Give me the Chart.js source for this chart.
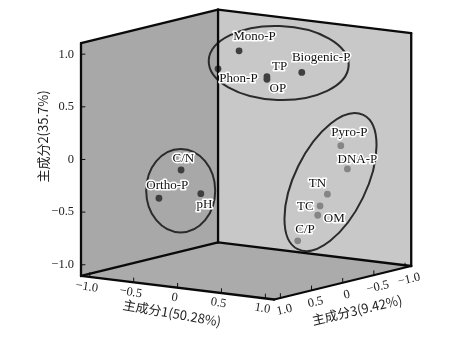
<!DOCTYPE html>
<html><head><meta charset="utf-8">
<style>html,body{margin:0;padding:0;background:#fff}canvas{display:block}</style>
<script src="https://cdn.jsdelivr.net/npm/chart.js@4/dist/chart.umd.min.js"></script>
</head><body><canvas id="c" width="471" height="342"></canvas>
<script>
// ---- data ----
const names = ['Mono-P','Phon-P','TP','OP','Biogenic-P','Pyro-P','DNA-P','TN','TC','OM','C/P','C/N','Ortho-P','pH'];
const pc1 = [-0.293,-0.462,0.308,0.308,0.776,0.724,0.728,0.571,0.487,0.461,0.304,-0.315,-0.567,-0.161];
const pc2 = [0.912,0.738,0.785,0.760,0.887,0.085,-0.150,-0.391,-0.511,-0.602,-0.847,-0.092,-0.386,-0.316];
const pc3 = [-0.3,-0.2,0.1,0.1,0.2,-0.5,-0.6,-0.5,-0.5,-0.5,-0.4,0.6,0.6,0.5];
const tickValues = [-1,-0.5,0,0.5,1];
const fmt = v => (v<0?'\u2212':'')+(v===0?'0':Math.abs(v).toFixed(1));
const titleX='主成分1(50.28%)', titleY='主成分2(35.7%)', titleZ='主成分3(9.42%)';

// ---- oblique view of the 3-D box ----
const R=1.1, eA=87.8, eC=-62.3, kA=.1015, kC=.1446;
const view=(a,b,c)=>({x:eA*(a+R)+eC*(c-R), y:b-kA*(a+R)-kC*(c-R)});
const H=1.106;
const corner=(i,j,k)=>view(i*R,j*H,k*R);
const edges=[
 [[-1,-1,1],[-1,1,1]],[[-1,-1,-1],[-1,1,-1]],[[1,-1,-1],[1,1,-1]],
 [[-1,1,1],[-1,1,-1]],[[-1,1,-1],[1,1,-1]],
 [[-1,-1,1],[-1,-1,-1]],[[-1,-1,-1],[1,-1,-1]],
 [[-1,-1,1],[1,-1,1]],[[1,-1,1],[1,-1,-1]]
];
const faces=[
 {c:'#a8a8a8',p:[[-1,-1,1],[-1,1,1],[-1,1,-1],[-1,-1,-1]]},
 {c:'#c8c8c8',p:[[-1,-1,-1],[-1,1,-1],[1,1,-1],[1,-1,-1]]},
 {c:'#ababab',p:[[-1,-1,1],[-1,-1,-1],[1,-1,-1],[1,-1,1]]}
];
const groupColor=['#3f3f3f','#3f3f3f','#3f3f3f','#3f3f3f','#3f3f3f','#858585','#858585','#858585','#858585','#858585','#858585','#3f3f3f','#3f3f3f','#3f3f3f'];
const labelOffset=[[15.4,-14],[20.5,10],[12.6,-10],[11,9.7],[19.4,-14.6],[8.6,-13],[10,-9.7],[-10,-10.3],[-14.7,.7],[16.6,3.4],[7.3,-11.7],[2.3,-11.3],[8.3,-12.3],[3.6,11.3]];
// ellipses: centre in view units, radii px, rotation deg
const rings=[
 {x:197.7,y:.917,rx:70,ry:37,rot:2},
 {x:249.5,y:-.214,rx:74.7,ry:36,rot:-64},
 {x:99.7,y:-.296,rx:34.5,ry:41.7,rot:0}
];
const serif='"Liberation Serif","Times New Roman",serif';
const cjk='"Noto Sans CJK SC","Liberation Serif",serif';

const box3d={id:'box3d',
 beforeDatasetsDraw(ch){
  const g=ch.ctx,X=ch.scales.x,Y=ch.scales.y;
  const px=p=>[X.getPixelForValue(p.x),Y.getPixelForValue(p.y)];
  g.save();
  faces.forEach(f=>{g.fillStyle=f.c;g.beginPath();
    f.p.forEach((q,i)=>{const [u,v]=px(corner(...q));i?g.lineTo(u,v):g.moveTo(u,v)});
    g.closePath();g.fill();});
  // tick marks
  g.strokeStyle='#111';g.lineWidth=1;
  const seg=(A,B)=>{const a=px(A),b=px(B);g.beginPath();g.moveTo(a[0],a[1]);g.lineTo(b[0],b[1]);g.stroke()};
  tickValues.forEach(v=>{
    seg(view(-R,v,R),view(-R+.05,v+.006,R));
    seg(view(v,-H,R),view(v,-H+.045,R));
    seg(view(R,-H,v),view(R,-H+.045,v));
  });
  g.restore();
 },
 afterDatasetsDraw(ch){
  const g=ch.ctx,X=ch.scales.x,Y=ch.scales.y;
  g.save();
  // text
  g.textAlign='center';g.textBaseline='middle';
  g.font='13px '+serif;g.lineJoin='round';
  names.forEach((n,i)=>{
    const p=view(pc1[i],pc2[i],pc3[i]);
    const u=X.getPixelForValue(p.x)+labelOffset[i][0],v=Y.getPixelForValue(p.y)+labelOffset[i][1];
    g.lineWidth=3;g.strokeStyle='#fff';g.strokeText(n,u,v);
    g.fillStyle='#111';g.fillText(n,u,v);
  });
  const rotText=(t,x,y,deg,font)=>{g.save();g.translate(x,y);g.rotate(deg*Math.PI/180);g.font=font;g.fillStyle='#222';g.fillText(t,0,0);g.restore()};
  const f12='12.5px '+serif;
  tickValues.forEach((v,i)=>{
    const a=view(v,-H,R),b=view(R,-H,v);
    rotText(fmt(v),X.getPixelForValue(a.x)-3,Y.getPixelForValue(a.y)+10,9,f12);
    rotText(fmt(v),X.getPixelForValue(b.x)+4,Y.getPixelForValue(b.y)+12,-13,f12);
  });
  rotText(titleX,172,313,10,'13px '+cjk);
  rotText(titleZ,357,310,-13,'13px '+cjk);
  rotText(titleY,43,136.5,-90,'13px '+cjk);
  g.restore();
 }
};
const ringPlugin={id:'rings',
 afterDatasetDraw(ch,args){
  if(args.index!==edges.length-1) return;
  const g=ch.ctx,X=ch.scales.x,Y=ch.scales.y;
  g.save();g.strokeStyle='#2b2b2b';g.lineWidth=2;
  rings.forEach(r=>{g.beginPath();
    g.ellipse(X.getPixelForValue(r.x),Y.getPixelForValue(r.y),r.rx,r.ry,r.rot*Math.PI/180,0,2*Math.PI);g.stroke();});
  g.restore();
 }
};
const edgeSets=edges.map(e=>({type:'line',data:e.map(q=>corner(...q)),borderColor:'#0a0a0a',borderWidth:2.3,pointRadius:0,tension:0,clip:false,parsing:false,borderCapStyle:'round'}));
const dots={type:'scatter',data:names.map((n,i)=>view(pc1[i],pc2[i],pc3[i])),backgroundColor:groupColor,borderWidth:0,pointRadius:3.4,clip:false};

new Chart(document.getElementById('c'),{
 type:'scatter',
 data:{datasets:[...edgeSets,dots]},
 plugins:[box3d,ringPlugin],
 options:{
  responsive:false,animation:false,events:[],
  layout:{padding:0,autoPadding:false},
  plugins:{legend:{display:false},tooltip:{enabled:false}},
  scales:{
   x:{type:'linear',display:false,min:0,max:390},
   y:{type:'linear',position:'left',min:-1.733,max:1.515,
      afterBuildTicks(s){s.ticks=tickValues.map(v=>({value:v}))},
      afterFit(s){s.width=81;s.paddingTop=0;s.paddingBottom=0},
      grid:{display:false,drawTicks:false},border:{display:false},
      ticks:{autoSkip:false,padding:7,color:'#222',font:{family:serif,size:12.5},callback:v=>fmt(v)}}
  }
 }
});
</script></body></html>
